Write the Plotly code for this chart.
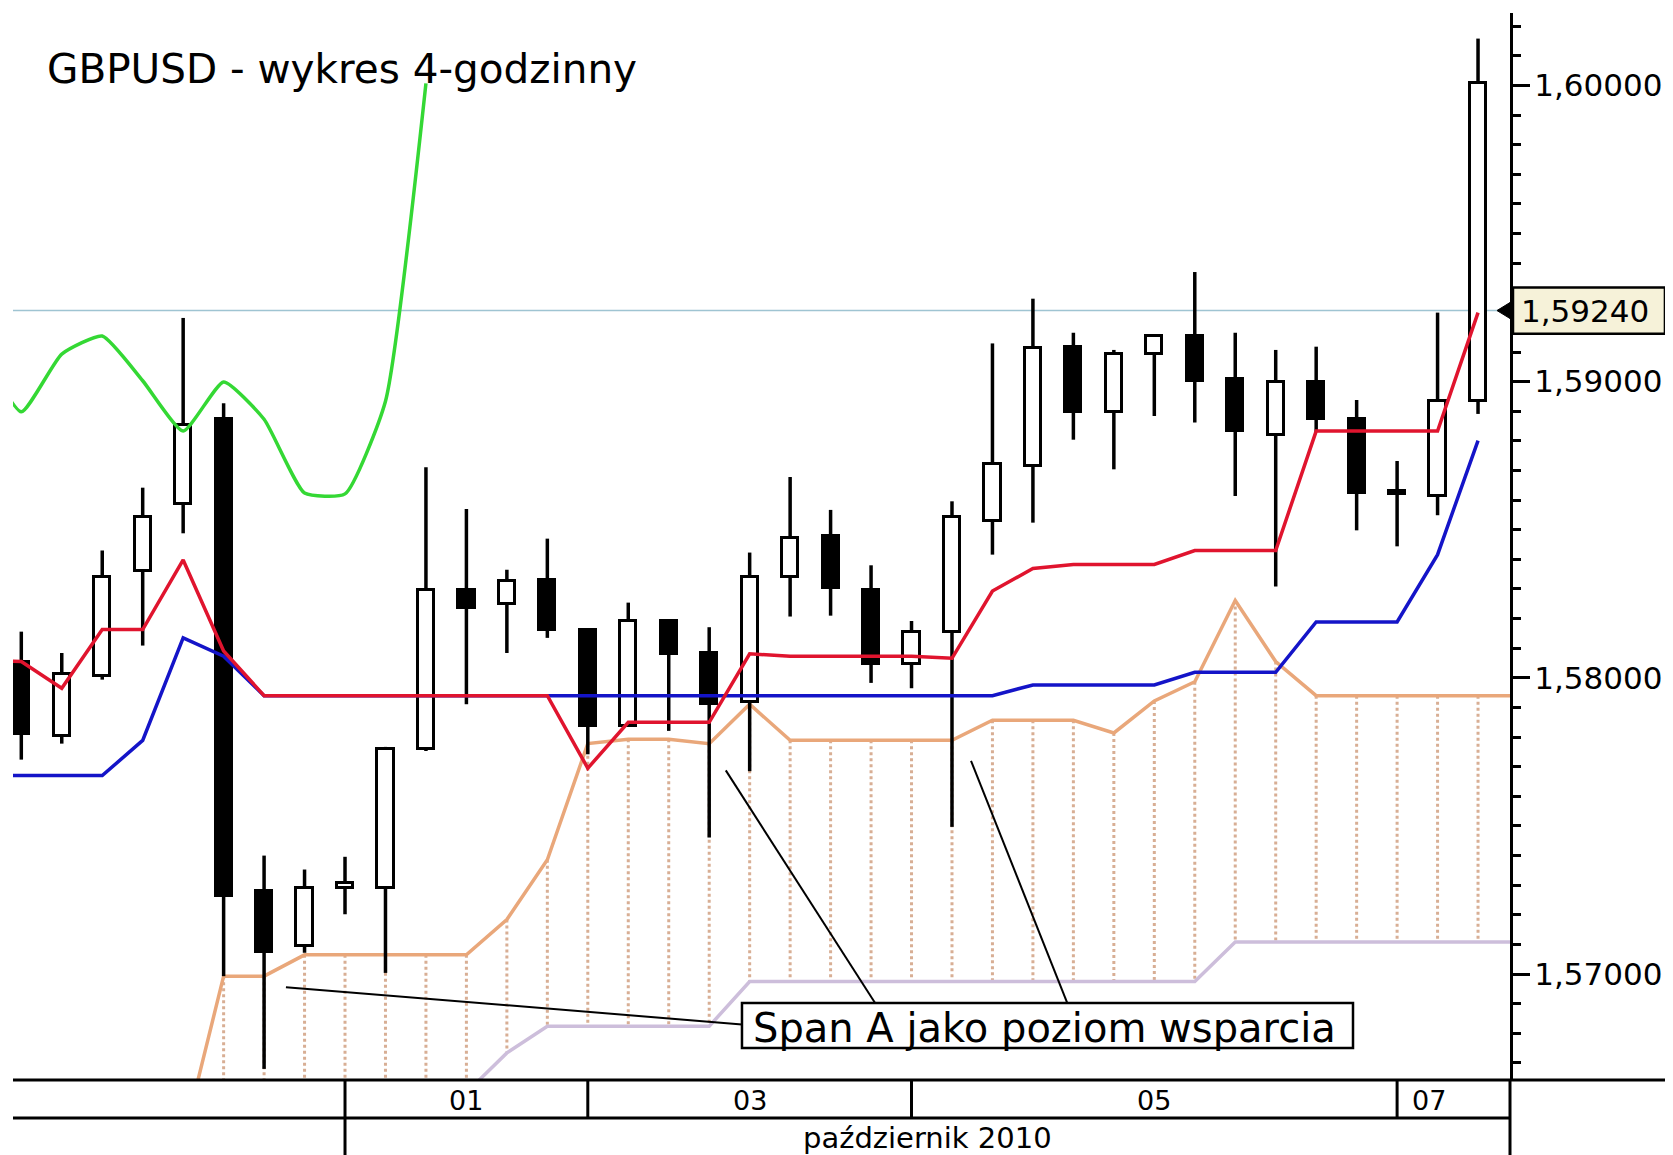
import plotly.graph_objects as go

# ---------------- data ----------------
candle_idx = list(range(37))
open_ = [1.58055, 1.57803, 1.58005, 1.58362, 1.58588, 1.58873, 1.57281, 1.57094, 1.57292, 1.57292,
         1.57760, 1.58297, 1.58250, 1.58329, 1.58163, 1.57839, 1.58192, 1.58084, 1.57919, 1.58340,
         1.58480, 1.58297, 1.58048, 1.58156, 1.58531, 1.58714, 1.59118, 1.58898, 1.59093, 1.59154,
         1.59010, 1.58819, 1.58999, 1.58873, 1.58632, 1.58614, 1.58934]
high = [1.58156, 1.58084, 1.58430, 1.58642, 1.59215, 1.58927, 1.57400, 1.57353, 1.57396, 1.57767,
        1.58711, 1.58570, 1.58365, 1.58470, 1.58163, 1.58254, 1.58192, 1.58171, 1.58423, 1.58678,
        1.58567, 1.58380, 1.58192, 1.58596, 1.59129, 1.59280, 1.59165, 1.59107, 1.59154, 1.59370,
        1.59165, 1.59107, 1.59118, 1.58938, 1.58732, 1.59233, 1.60158]
low = [1.57724, 1.57778, 1.57994, 1.58109, 1.58488, 1.56993, 1.56680, 1.57072, 1.57202, 1.57004,
       1.57753, 1.57911, 1.58084, 1.58135, 1.57742, 1.57839, 1.57821, 1.57461, 1.57685, 1.58207,
       1.58210, 1.57983, 1.57965, 1.57497, 1.58416, 1.58524, 1.58804, 1.58704, 1.58884, 1.58862,
       1.58614, 1.58308, 1.58830, 1.58498, 1.58444, 1.58549, 1.58891]
close = [1.57811, 1.58012, 1.58340, 1.58542, 1.58855, 1.57263, 1.57076, 1.57292, 1.57306, 1.57760,
         1.58297, 1.58236, 1.58326, 1.58163, 1.57839, 1.58192, 1.58081, 1.57911, 1.58340, 1.58473,
         1.58304, 1.58048, 1.58156, 1.58542, 1.58722, 1.59114, 1.58898, 1.59093, 1.59154, 1.59003,
         1.58833, 1.58999, 1.58873, 1.58624, 1.58621, 1.58934, 1.60007]

line_idx = list(range(-1, 37))
tenkan = [1.58060, 1.58055, 1.57965, 1.58163, 1.58163, 1.58398, 1.58091, 1.57940, 1.57940, 1.57940,
          1.57940, 1.57940, 1.57940, 1.57940, 1.57940, 1.57695, 1.57850, 1.57850, 1.57850, 1.58081,
          1.58073, 1.58073, 1.58073, 1.58073, 1.58066, 1.58293, 1.58369, 1.58383, 1.58383, 1.58383,
          1.58430, 1.58430, 1.58430, 1.58833, 1.58833, 1.58833, 1.58833, 1.59233]
kijun = [1.57670, 1.57670, 1.57670, 1.57670, 1.57789, 1.58135, 1.58073, 1.57940, 1.57940, 1.57940,
         1.57940, 1.57940, 1.57940, 1.57940, 1.57940, 1.57940, 1.57940, 1.57940, 1.57940, 1.57940,
         1.57940, 1.57940, 1.57940, 1.57940, 1.57940, 1.57940, 1.57976, 1.57976, 1.57976, 1.57976,
         1.58019, 1.58019, 1.58019, 1.58189, 1.58189, 1.58189, 1.58416, 1.58801]

span_a_idx = list(range(4, 38))
span_a = [1.56440, 1.56993, 1.56993, 1.57065, 1.57065, 1.57065, 1.57065, 1.57065, 1.57184, 1.57386,
          1.57778, 1.57793, 1.57793, 1.57778, 1.57911, 1.57789, 1.57789, 1.57789, 1.57789, 1.57789,
          1.57857, 1.57857, 1.57857, 1.57814, 1.57922, 1.57987, 1.58261, 1.58055, 1.57940, 1.57940,
          1.57940, 1.57940, 1.57940, 1.57940]
span_b_idx = list(range(5, 38))
span_b = [1.56500, 1.56500, 1.56500, 1.56500, 1.56500, 1.56500, 1.56600, 1.56734, 1.56824, 1.56824,
          1.56824, 1.56824, 1.56824, 1.56975, 1.56975, 1.56975, 1.56975, 1.56975, 1.56975, 1.56975,
          1.56975, 1.56975, 1.56975, 1.56975, 1.56975, 1.57108, 1.57108, 1.57108, 1.57108, 1.57108,
          1.57108, 1.57108, 1.57108]

chikou_shift = 26
price_level = 1.5924
price_text = "1,59240"

ytick_vals = [1.57, 1.58, 1.59, 1.60]
ytick_text = ["1,57000", "1,58000", "1,59000", "1,60000"]

day_sep = [8, 14, 22, 34]
day_labels = ["01", "03", "05", "07"]
day_label_pos = [11, 18, 28, 34.8]
month_sep = [8]
month_label = "październik 2010"
month_label_pos = 22.4

title_text = "GBPUSD - wykres 4-godzinny"
note_text = "Span A jako poziom wsparcia"

FONT = "DejaVu Sans"
X_RANGE = [-0.205, 36.79]
Y_RANGE = [1.566425, 1.602444]

# ---------------- figure ----------------
fig = go.Figure()

# cloud hatch (dotted verticals between span A and span B at each candle)
a_map = dict(zip(span_a_idx, span_a))
b_map = dict(zip(span_b_idx, span_b))
hx, hy = [], []
for i in candle_idx:
    if i in a_map and i in b_map:
        hx += [i, i, None]
        hy += [a_map[i], b_map[i], None]
fig.add_trace(go.Scatter(x=hx, y=hy, mode="lines",
                         line=dict(color="#d8ae94", width=3, dash="dot"),
                         hoverinfo="skip", showlegend=False))

# span B and span A
fig.add_trace(go.Scatter(x=span_b_idx, y=span_b, mode="lines",
                         line=dict(color="#cdbedb", width=3.5), showlegend=False))
fig.add_trace(go.Scatter(x=span_a_idx, y=span_a, mode="lines",
                         line=dict(color="#e9a77a", width=3.5), showlegend=False))

# candle bodies
body_base = [min(o, c) for o, c in zip(open_, close)]
body_h = [max(abs(c - o), 0.00004) for o, c in zip(open_, close)]
body_col = ["white" if c >= o else "black" for o, c in zip(open_, close)]
fig.add_trace(go.Bar(x=candle_idx, y=body_h, base=body_base, width=0.40,
                     marker=dict(color=body_col, line=dict(color="black", width=3)),
                     showlegend=False, hoverinfo="skip"))

# wicks (drawn outside the bodies)
wx, wy = [], []
for i, o, h, l, c in zip(candle_idx, open_, high, low, close):
    top, bot = max(o, c), min(o, c)
    if h > top:
        wx += [i, i, None]
        wy += [h, top, None]
    if l < bot:
        wx += [i, i, None]
        wy += [bot, l, None]
fig.add_trace(go.Scatter(x=wx, y=wy, mode="lines", line=dict(color="black", width=3.5),
                         hoverinfo="skip", showlegend=False))

# kijun (blue), tenkan (red)
fig.add_trace(go.Scatter(x=line_idx, y=kijun, mode="lines",
                         line=dict(color="#1414c8", width=3.5), showlegend=False))
fig.add_trace(go.Scatter(x=line_idx, y=tenkan, mode="lines",
                         line=dict(color="#e0142e", width=3.5), showlegend=False))

# chikou span (green) = close shifted back 26 periods
ch_x = [i - chikou_shift for i in candle_idx if i - chikou_shift >= -1]
ch_y = [close[i] for i in candle_idx if i - chikou_shift >= -1]
fig.add_trace(go.Scatter(x=ch_x, y=ch_y, mode="lines",
                         line=dict(color="#34d834", width=3.5, shape="spline", smoothing=0.5),
                         showlegend=False))

shapes = []
# price line
shapes.append(dict(type="line", xref="paper", yref="y", x0=0, x1=1, y0=price_level, y1=price_level,
                   line=dict(color="#9fc4d2", width=1.5), layer="below"))
# date axis rows
ROW1 = -0.0356
BOT = -0.075
shapes.append(dict(type="line", xref="paper", yref="paper", x0=0, x1=1.2, y0=0, y1=0,
                   line=dict(color="black", width=3)))
shapes.append(dict(type="line", xref="paper", yref="paper", x0=0, x1=1, y0=ROW1, y1=ROW1,
                   line=dict(color="black", width=3)))
for s in day_sep:
    shapes.append(dict(type="line", xref="x", yref="paper", x0=s, x1=s, y0=0, y1=ROW1,
                       line=dict(color="black", width=3)))
for s in month_sep:
    shapes.append(dict(type="line", xref="x", yref="paper", x0=s, x1=s, y0=ROW1, y1=BOT,
                       line=dict(color="black", width=3)))
# right axis line extension
shapes.append(dict(type="line", xref="paper", yref="paper", x0=1, x1=1, y0=0, y1=BOT,
                   line=dict(color="black", width=3)))
# price label box + pointer
dy = 0.00027
shapes.append(dict(type="rect", xref="paper", yref="y", x0=1.002, x1=1.1035,
                   y0=price_level - 0.00078, y1=price_level + 0.00078,
                   fillcolor="#f6f2d9", line=dict(color="black", width=2.5)))
shapes.append(dict(type="path", xref="paper", yref="y",
                   path=f"M 0.9913 {price_level} L 1.0 {price_level + dy} L 1.0 {price_level - dy} Z",
                   fillcolor="black", line=dict(color="black", width=1)))

# note box and leader lines
note_box = dict(x0=17.81, x1=32.91, y0=1.567505, y1=1.569024)
shapes.append(dict(type="rect", xref="x", yref="y", **note_box,
                   fillcolor="white", line=dict(color="black", width=2.5)))
leaders = [((6.54, 1.56956), (17.81, 1.56830)),
           ((17.41, 1.576877), (21.10, 1.569024)),
           ((23.47, 1.577201), (25.85, 1.569024))]
for (xa, ya), (xb, yb) in leaders:
    shapes.append(dict(type="line", xref="x", yref="y", x0=xa, y0=ya, x1=xb, y1=yb,
                       line=dict(color="black", width=2)))

annotations = []
annotations.append(dict(text=title_text, xref="paper", yref="paper", x=0.0214, y=0.9475,
                        xanchor="left", yanchor="middle", showarrow=False,
                        font=dict(family=FONT, size=40.5, color="black")))
annotations.append(dict(text=note_text, xref="x", yref="y", x=25.29, y=1.56818,
                        xanchor="center", yanchor="middle", showarrow=False,
                        font=dict(family=FONT, size=40, color="black")))
annotations.append(dict(text=price_text, xref="paper", yref="y", x=1.0498, y=price_level,
                        xanchor="center", yanchor="middle", showarrow=False,
                        font=dict(family=FONT, size=31, color="black")))
for lab, pos in zip(day_labels, day_label_pos):
    annotations.append(dict(text=lab, xref="x", yref="paper", x=pos, y=-0.0195,
                            xanchor="center", yanchor="middle", showarrow=False,
                            font=dict(family=FONT, size=27, color="black")))
annotations.append(dict(text=month_label, xref="x", yref="paper", x=month_label_pos, y=-0.0545,
                        xanchor="center", yanchor="middle", showarrow=False,
                        font=dict(family=FONT, size=29, color="black")))

# the page body adds an 8 px margin on the left and top; compensate here
fig.update_layout(
    width=1665, height=1147,
    margin=dict(l=5, r=163, t=5, b=75, autoexpand=False),
    paper_bgcolor="white", plot_bgcolor="white",
    showlegend=False, hovermode=False,
    shapes=shapes, annotations=annotations,
    xaxis=dict(range=X_RANGE, showgrid=False, zeroline=False, showticklabels=False,
               showline=False, ticks="", automargin=False),
    yaxis=dict(range=Y_RANGE, side="right", showgrid=False, zeroline=False, automargin=False,
               showline=True, linecolor="black", linewidth=3,
               ticks="outside", ticklen=17, tickwidth=2.5, tickcolor="black",
               tickvals=ytick_vals, ticktext=ytick_text, ticklabelstandoff=-2,
               tickfont=dict(family=FONT, size=31, color="black"),
               minor=dict(ticks="outside", ticklen=8, tickwidth=2.5, tickcolor="black",
                          dtick=0.001, tick0=1.57, showgrid=False)),
    bargap=0,
)

fig.write_html("out.html")
